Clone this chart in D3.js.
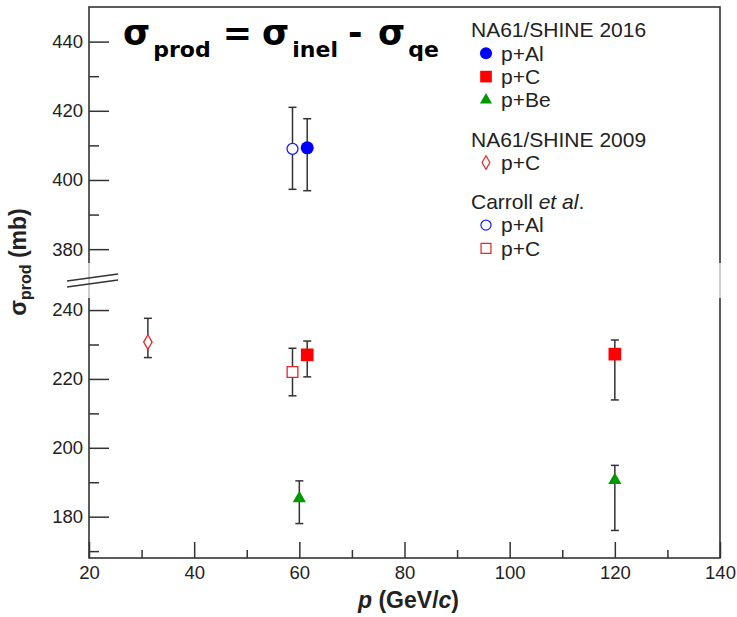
<!DOCTYPE html>
<html>
<head>
<meta charset="utf-8">
<script src="https://cdn.jsdelivr.net/npm/d3@7"></script>
<style>
  body { margin: 0; background: #fff; }
  svg { display: block; }
  .tick text { font-family: "Liberation Sans", Arial, sans-serif; font-size: 18.5px; fill: #222; }
  .tick line { stroke: #333; stroke-width: 1.5px; }
</style>
</head>
<body>
<div id="chart"></div>
<script>
// data: momentum (GeV/c), sigma_prod (mb), error up, error down
var na61_2016_Al = { p: [61.5], v: [409.3], up: [8.4], dn: [12.4] };
var na61_2016_C  = { p: [61.5, 120], v: [227.0, 227.2], up: [4.0, 4.1], dn: [6.4, 13.3] };
var na61_2016_Be = { p: [60, 120], v: [185.3, 190.6], up: [5.1, 4.3], dn: [7.3, 14.6] };
var na61_2009_C  = { p: [31.2], v: [230.7], up: [6.9], dn: [4.5] };
var carroll_Al   = { p: [58.7], v: [409.0], up: [12.0], dn: [11.7] };
var carroll_C    = { p: [58.7], v: [222.0], up: [6.9], dn: [6.9] };

var xTicks = [20, 40, 60, 80, 100, 120, 140];
var xMinor = [30, 50, 70, 90, 110, 130];
var yTicksHi = [380, 400, 420, 440];
var yMinorHi = [390, 410, 430];
var yTicksLo = [180, 200, 220, 240];
var yMinorLo = [170, 190, 210, 230];

//Set the size of the SVG
var width = 737;
var height = 617;
var plot = { left: 89, right: 720, top: 7, bottom: 558, gapTop: 263, gapBottom: 298 };

var svg = d3.select("#chart").append("svg")
  .attr("width", width)
  .attr("height", height);

/* scales: one x, two y segments around the break */
var xScale = d3.scaleLinear().domain([20, 140]).range([plot.left, plot.right]);
var yHi = d3.scaleLinear().domain([376, 450]).range([plot.gapTop, plot.top]);
var yLo = d3.scaleLinear().domain([168, 243.5]).range([plot.bottom, plot.gapBottom]);
var yOf = v => v > 300 ? yHi(v) : yLo(v);

/* frame */
svg.append("rect")
  .attr("x", plot.left).attr("y", plot.top)
  .attr("width", plot.right - plot.left).attr("height", plot.bottom - plot.top)
  .attr("fill", "none").attr("stroke", "#333").attr("stroke-width", 1.6);

/* axes with inward ticks */
function cleanAxis(g) { g.select(".domain").remove(); }

svg.append("g").attr("transform", `translate(${plot.left},0)`)
  .call(d3.axisLeft(yHi).tickValues(yTicksHi).tickSize(-20).tickPadding(6)).call(cleanAxis);
svg.append("g").attr("transform", `translate(${plot.left},0)`)
  .call(d3.axisLeft(yHi).tickValues(yMinorHi).tickSize(-10).tickFormat("")).call(cleanAxis);
svg.append("g").attr("transform", `translate(${plot.left},0)`)
  .call(d3.axisLeft(yLo).tickValues(yTicksLo).tickSize(-20).tickPadding(6)).call(cleanAxis);
svg.append("g").attr("transform", `translate(${plot.left},0)`)
  .call(d3.axisLeft(yLo).tickValues(yMinorLo).tickSize(-10).tickFormat("")).call(cleanAxis);

svg.append("g").attr("transform", `translate(0,${plot.bottom})`)
  .call(d3.axisBottom(xScale).tickValues(xTicks).tickSize(-16).tickPadding(8)).call(cleanAxis);
svg.append("g").attr("transform", `translate(0,${plot.bottom})`)
  .call(d3.axisBottom(xScale).tickValues(xMinor).tickSize(-8).tickFormat("")).call(cleanAxis);

/* the break: fade the frame and draw the two slanted marks */
svg.append("rect")
  .attr("x", plot.left - 10).attr("y", plot.gapTop)
  .attr("width", plot.right - plot.left + 20).attr("height", plot.gapBottom - plot.gapTop)
  .attr("fill", "#fff").attr("opacity", 0.7);

var breakMid = (plot.gapTop + plot.gapBottom) / 2;
[-3, 3].forEach(function (off) {
  svg.append("line")
    .attr("x1", plot.left - 22).attr("y1", breakMid + off + 3.5)
    .attr("x2", plot.left + 29).attr("y2", breakMid + off - 3.5)
    .attr("stroke", "#333").attr("stroke-width", 1.3);
});

/* points with error bars */
var series = [
  { d: carroll_Al,   type: d3.symbolCircle,   size: 95,  fill: "none",    stroke: "#1a1aff" },
  { d: na61_2016_Al, type: d3.symbolCircle,   size: 135, fill: "#0000ff", stroke: "none" },
  { d: carroll_C,    type: d3.symbolSquare,   size: 115, fill: "none",    stroke: "#e8262a" },
  { d: na61_2016_C,  type: d3.symbolSquare,   size: 160, fill: "#ff0000", stroke: "none" },
  { d: na61_2016_Be, type: d3.symbolTriangle, size: 75,  fill: "#009900", stroke: "none" },
  { d: na61_2009_C,  type: d3.symbolDiamond,  size: 62,  fill: "none",    stroke: "#e8262a" }
];

var capW = 4;
series.forEach(function (s) {
  var pts = s.d.p.map((p, i) => ({ p: p, v: s.d.v[i], up: s.d.up[i], dn: s.d.dn[i] }));
  var g = svg.append("g");
  pts.forEach(function (d) {
    var x = xScale(d.p), y1 = yOf(d.v + d.up), y2 = yOf(d.v - d.dn);
    g.append("line").attr("x1", x).attr("x2", x).attr("y1", y1).attr("y2", y2)
      .attr("stroke", "#333").attr("stroke-width", 1.5);
    [y1, y2].forEach(function (yy) {
      g.append("line").attr("x1", x - capW).attr("x2", x + capW).attr("y1", yy).attr("y2", yy)
        .attr("stroke", "#333").attr("stroke-width", 1.5);
    });
  });
  g.selectAll("path.marker")
    .data(pts).join("path")
    .attr("class", "marker")
    .attr("transform", d => `translate(${xScale(d.p)},${yOf(d.v)})`)
    .attr("d", d3.symbol().type(s.type).size(s.size))
    .attr("fill", s.fill === "none" ? "#fff" : s.fill)
    .attr("stroke", s.stroke)
    .attr("stroke-width", 1.3);
});

/* legend */
var legendRows = [
  { head: "NA61/SHINE 2016" },
  { label: "p+Al", s: series[1] },
  { label: "p+C",  s: series[3] },
  { label: "p+Be", s: series[4] },
  { head: "NA61/SHINE 2009" },
  { label: "p+C",  s: series[5] },
  { head: "Carroll", italic: " et al", tail: "." },
  { label: "p+Al", s: series[0] },
  { label: "p+C",  s: series[2] }
];
var ly = 30;
var legend = svg.append("g")
  .style("font-family", "'Liberation Sans', Arial, sans-serif")
  .style("font-size", "21px")
  .attr("fill", "#222");
legendRows.forEach(function (r, i) {
  if (r.head && i > 0) ly += 16;
  if (r.head) {
    var t = legend.append("text").attr("x", 471).attr("y", ly).attr("dy", "0.35em").text(r.head);
    if (r.italic) {
      t.append("tspan").style("font-style", "italic").text(r.italic);
      t.append("tspan").text(r.tail);
    }
  } else {
    legend.append("path")
      .attr("transform", `translate(486,${ly})`)
      .attr("d", d3.symbol().type(r.s.type).size(r.s.size * 0.85))
      .attr("fill", r.s.fill === "none" ? "#fff" : r.s.fill)
      .attr("stroke", r.s.stroke).attr("stroke-width", 1.2);
    legend.append("text").attr("x", 501).attr("y", ly).attr("dy", "0.35em").text(r.label);
  }
  ly += 23.3;
});

/* title formula */
var title = svg.append("text")
  .attr("y", 45)
  .style("font-family", "'DejaVu Sans', Verdana, sans-serif")
  .style("font-weight", "bold")
  .style("font-size", "35px")
  .attr("fill", "#000");
var parts = [
  { main: "σ", sub: "prod", x: 123, after: "=", gap: 12 },
  { main: "σ", sub: "inel", x: 262, after: "-", gap: 10 },
  { main: "σ", sub: "qe", x: 378, after: "", gap: 0 }
];
parts.forEach(function (p) {
  title.append("tspan").attr("x", p.x).attr("dy", 0).text(p.main);
  title.append("tspan").style("font-size", "22px").attr("dx", 3).attr("dy", 12).text(p.sub);
  title.append("tspan").attr("dx", p.gap).attr("dy", -12).text(p.after);
});

/* axis titles */
svg.append("text")
  .attr("text-anchor", "middle")
  .attr("transform", `translate(${xScale(80) + 4},608)`)
  .style("font-family", "'Liberation Sans', Arial, sans-serif")
  .style("font-weight", "bold")
  .style("font-size", "23px")
  .attr("fill", "#222")
  .call(t => {
    t.append("tspan").style("font-style", "italic").text("p");
    t.append("tspan").text(" (GeV/");
    t.append("tspan").style("font-style", "italic").text("c");
    t.append("tspan").text(")");
  });

svg.append("text")
  .attr("text-anchor", "middle")
  .attr("transform", "translate(26,262) rotate(-90)")
  .style("font-family", "'Liberation Sans', Arial, sans-serif")
  .style("font-weight", "bold")
  .style("font-size", "23px")
  .attr("fill", "#222")
  .call(t => {
    t.append("tspan").text("σ");
    t.append("tspan").style("font-size", "16px").attr("dy", 5).text("prod");
    t.append("tspan").attr("dy", -5).text(" (mb)");
  });
</script>
</body>
</html>
